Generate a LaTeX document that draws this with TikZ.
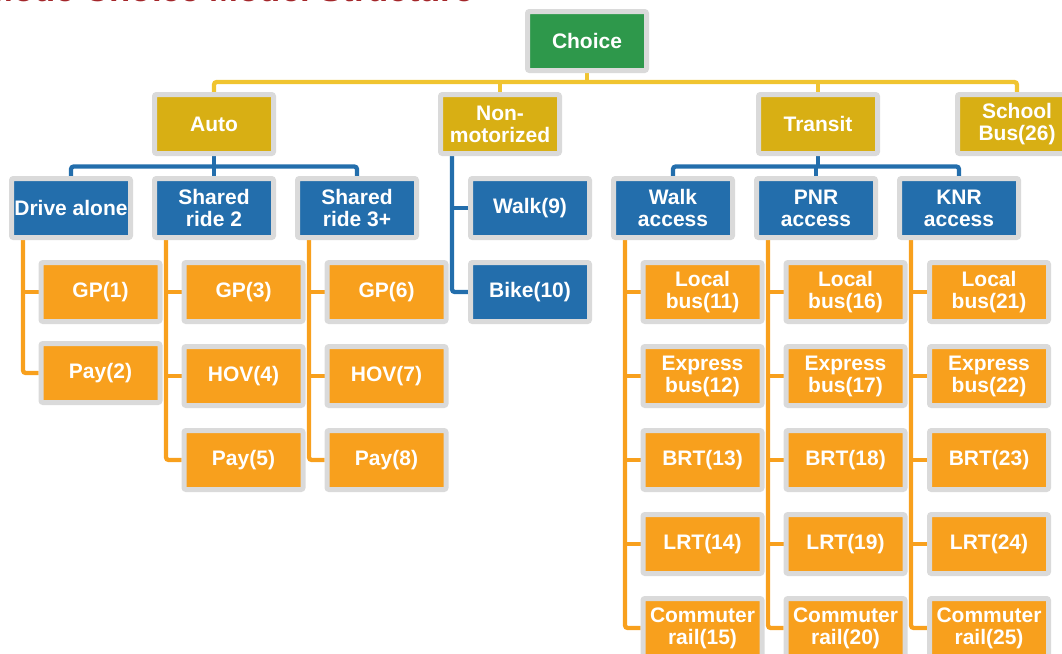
\documentclass[tikz,border=0pt]{standalone}
\usepackage{fontspec}
\setmainfont{Liberation Sans}
\usetikzlibrary{backgrounds,calc}
\definecolor{boxgray}{RGB}{218,218,218}
\definecolor{cgreen}{RGB}{46,152,75}
\definecolor{cgold}{RGB}{216,175,20}
\definecolor{cblue}{RGB}{35,110,172}
\definecolor{corange}{RGB}{248,160,29}
\definecolor{cyline}{RGB}{240,196,48}
\definecolor{titlered}{RGB}{163,38,42}
\begin{document}
\begin{tikzpicture}[x=0.75pt,y=-0.75pt,
  box/.style={draw=boxgray, line width=3.75pt, rounded corners=1.5pt,
    minimum width=89.25pt, minimum height=44.25pt, inner sep=0pt,
    text=white, align=center,
    font=\fontsize{15.75pt}{16.5pt}\selectfont\bfseries},
  rootbox/.style={box, fill=cgreen},
  lvone/.style={box, fill=cgold},
  lvtwo/.style={box, fill=cblue},
  leaf/.style={box, fill=corange},
  yl/.style={draw=cyline, line width=3.2pt, rounded corners=2pt},
  bl/.style={draw=cblue, line width=3.2pt, rounded corners=2pt},
  ol/.style={draw=corange, line width=3.2pt, rounded corners=2pt}]
\useasboundingbox (0,0) rectangle (1062,653);
\begin{scope}
\clip (0,0) rectangle (1062,653);
\node[anchor=base east, text=titlered, inner sep=0pt,
  font=\fontsize{26pt}{26pt}\selectfont\bfseries] (title) at (474,1.5) {Mode Choice Model Structure};
% level 0
\node[rootbox] (choice) at (587,41) {Choice};
% level 1
\node[lvone] (auto) at (214,124) {Auto};
\node[lvone] (nonmot) at (500,124) {Non-\\motorized};
\node[lvone] (transit) at (818,124) {Transit};
\node[lvone] (school) at (1017,124) {School\\Bus(26)};
% level 2
\node[lvtwo] (da) at (71,208) {Drive alone};
\node[lvtwo] (sr2) at (214,208) {Shared\\ride 2};
\node[lvtwo] (sr3) at (357,208) {Shared\\ride 3+};
\node[lvtwo] (walk) at (530,208) {Walk(9)};
\node[lvtwo] (bike) at (530,292) {Bike(10)};
\node[lvtwo] (wa) at (673,208) {Walk\\access};
\node[lvtwo] (pnr) at (816,208) {PNR\\access};
\node[lvtwo] (knr) at (959,208) {KNR\\access};
% auto leaves
\node[leaf] (gp1) at (100.5,292) {GP(1)};
\node[leaf] (pay2) at (100.5,373) {Pay(2)};
\node[leaf] (gp3) at (243.5,292) {GP(3)};
\node[leaf] (hov4) at (243.5,376) {HOV(4)};
\node[leaf] (pay5) at (243.5,460) {Pay(5)};
\node[leaf] (gp6) at (386.5,292) {GP(6)};
\node[leaf] (hov7) at (386.5,376) {HOV(7)};
\node[leaf] (pay8) at (386.5,460) {Pay(8)};
% transit leaves
\node[leaf] (lb11) at (702.5,292) {Local\\bus(11)};
\node[leaf] (eb12) at (702.5,376) {Express\\bus(12)};
\node[leaf] (brt13) at (702.5,460) {BRT(13)};
\node[leaf] (lrt14) at (702.5,544) {LRT(14)};
\node[leaf] (cr15) at (702.5,628) {Commuter\\rail(15)};
\node[leaf] (lb16) at (845.5,292) {Local\\bus(16)};
\node[leaf] (eb17) at (845.5,376) {Express\\bus(17)};
\node[leaf] (brt18) at (845.5,460) {BRT(18)};
\node[leaf] (lrt19) at (845.5,544) {LRT(19)};
\node[leaf] (cr20) at (845.5,628) {Commuter\\rail(20)};
\node[leaf] (lb21) at (989,292) {Local\\bus(21)};
\node[leaf] (eb22) at (989,376) {Express\\bus(22)};
\node[leaf] (brt23) at (989,460) {BRT(23)};
\node[leaf] (lrt24) at (989,544) {LRT(24)};
\node[leaf] (cr25) at (989,628) {Commuter\\rail(25)};
\end{scope}
\begin{pgfonlayer}{background}
\coordinate (ybar) at (0,82);
\coordinate (bbar) at (0,166.5);
% yellow tree
\draw[yl] (choice.south) -- (choice.south |- ybar);
\draw[yl] (auto.north) |- (school.north |- ybar) -- (school.north);
\draw[yl] (nonmot.north) -- (nonmot.north |- ybar);
\draw[yl] (transit.north) -- (transit.north |- ybar);
% blue trees
\draw[bl] (auto.south) -- (auto.south |- bbar);
\draw[bl] (da.north) |- (sr3.north |- bbar) -- (sr3.north);
\draw[bl] (sr2.north) -- (sr2.north |- bbar);
\draw[bl] (transit.south) -- (transit.south |- bbar);
\draw[bl] (wa.north) |- (knr.north |- bbar) -- (knr.north);
\draw[bl] (pnr.north) -- (pnr.north |- bbar);
\coordinate (nmv) at ($(nonmot.south west)+(14,0)$);
\draw[bl] (nmv) |- (bike.west);
\draw[bl] (nmv |- walk.west) -- (walk.west);
% orange trees
\coordinate (dav) at ($(da.south west)+(14,0)$);
\draw[ol] (dav) |- (pay2.west);
\draw[ol] (dav |- gp1.west) -- (gp1.west);
\coordinate (sr2v) at ($(sr2.south west)+(14,0)$);
\draw[ol] (sr2v) |- (pay5.west);
\draw[ol] (sr2v |- gp3.west) -- (gp3.west);
\draw[ol] (sr2v |- hov4.west) -- (hov4.west);
\coordinate (sr3v) at ($(sr3.south west)+(14,0)$);
\draw[ol] (sr3v) |- (pay8.west);
\draw[ol] (sr3v |- gp6.west) -- (gp6.west);
\draw[ol] (sr3v |- hov7.west) -- (hov7.west);
\coordinate (wav) at ($(wa.south west)+(14,0)$);
\draw[ol] (wav) |- (cr15.west);
\draw[ol] (wav |- lb11.west) -- (lb11.west);
\draw[ol] (wav |- eb12.west) -- (eb12.west);
\draw[ol] (wav |- brt13.west) -- (brt13.west);
\draw[ol] (wav |- lrt14.west) -- (lrt14.west);
\coordinate (pnrv) at ($(pnr.south west)+(14,0)$);
\draw[ol] (pnrv) |- (cr20.west);
\draw[ol] (pnrv |- lb16.west) -- (lb16.west);
\draw[ol] (pnrv |- eb17.west) -- (eb17.west);
\draw[ol] (pnrv |- brt18.west) -- (brt18.west);
\draw[ol] (pnrv |- lrt19.west) -- (lrt19.west);
\coordinate (knrv) at ($(knr.south west)+(14,0)$);
\draw[ol] (knrv) |- (cr25.west);
\draw[ol] (knrv |- lb21.west) -- (lb21.west);
\draw[ol] (knrv |- eb22.west) -- (eb22.west);
\draw[ol] (knrv |- brt23.west) -- (brt23.west);
\draw[ol] (knrv |- lrt24.west) -- (lrt24.west);
\end{pgfonlayer}
\end{tikzpicture}
\end{document}
